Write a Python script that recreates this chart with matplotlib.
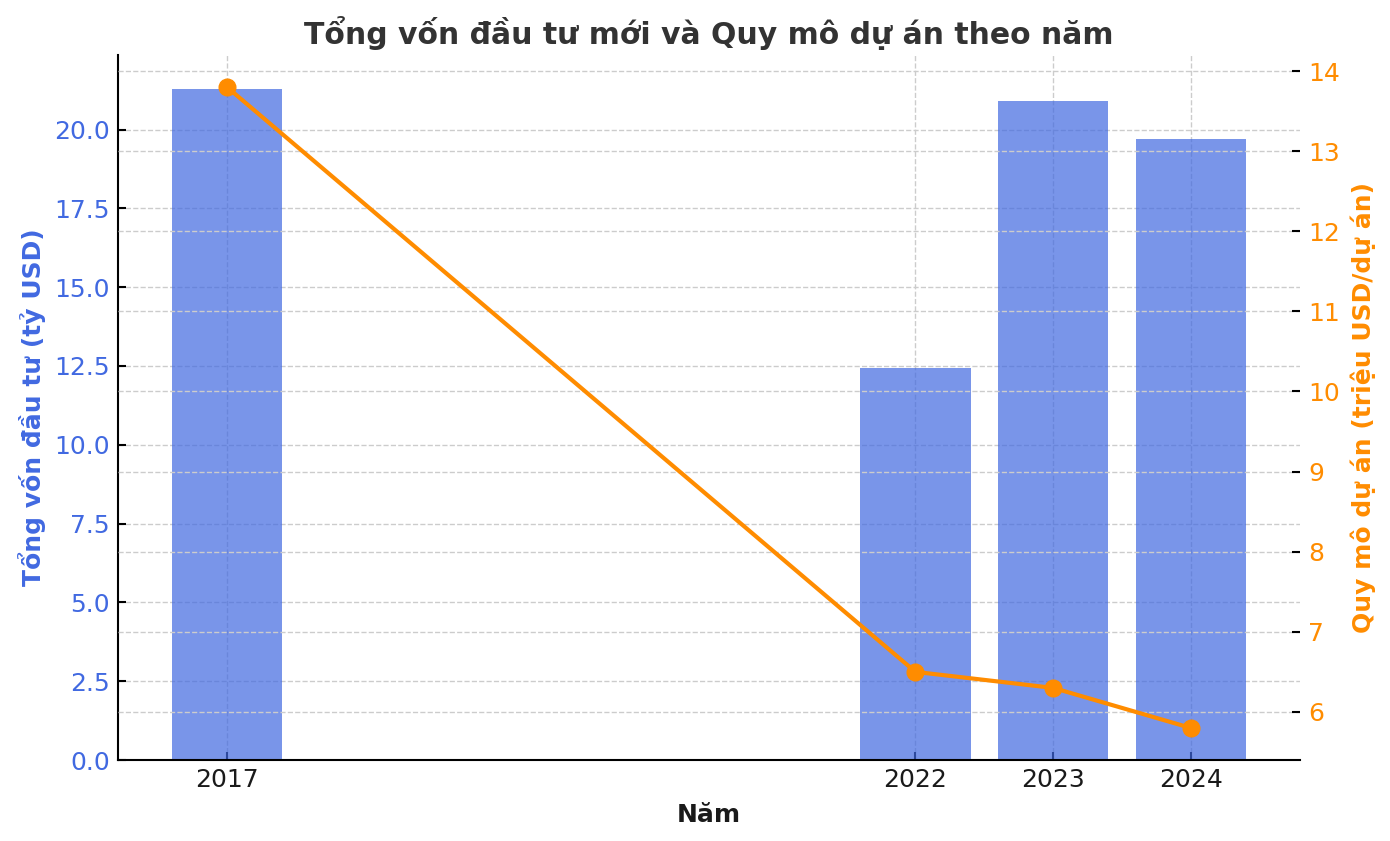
import matplotlib
matplotlib.use('Agg')
import matplotlib.pyplot as plt

# Données
nam = [2017, 2022, 2023, 2024]
tong_von = [21.3, 12.45, 20.9, 19.7]      # tỷ USD
quy_mo = [13.8, 6.5, 6.3, 5.8]            # triệu USD/dự án

mau_cot = 'royalblue'
mau_duong = 'darkorange'

fig = plt.figure(figsize=(13.9, 8.41), dpi=100)
ax1 = fig.add_axes([0.085, 0.0963, 0.85, 0.8383])

ax1.bar(nam, tong_von, width=0.8, color=mau_cot, alpha=0.7, zorder=2)
ax1.set_xticks(nam)
ax1.set_xticklabels([str(n) for n in nam])
ax1.set_xlabel('Năm', fontsize=18, fontweight='bold', color='#1a1a1a', labelpad=8)
ax1.set_ylabel('Tổng vốn đầu tư (tỷ USD)', fontsize=18, fontweight='bold', color=mau_cot, labelpad=6)
ax1.tick_params(axis='y', labelcolor=mau_cot, color='black', labelsize=18, direction='in', length=6, width=1.5, pad=6)
ax1.tick_params(axis='x', labelsize=18, direction='in', length=6, width=1.5, labelcolor='#1a1a1a', pad=6)
ax1.grid(True, linestyle='--', color='#cccccc', linewidth=1, zorder=0)
ax1.set_axisbelow(True)
for s in ['top', 'right']:
    ax1.spines[s].set_visible(False)
for s in ['left', 'bottom']:
    ax1.spines[s].set_linewidth(1.5)

ax2 = ax1.twinx()
ax2.plot(nam, quy_mo, color=mau_duong, linewidth=3, marker='o', markersize=12)
ax2.set_ylabel('Quy mô dự án (triệu USD/dự án)', fontsize=18, fontweight='bold', color=mau_duong, labelpad=8)
ax2.tick_params(axis='y', labelcolor=mau_duong, color='black', labelsize=18, direction='in', length=6, width=1.5, pad=6)
ax2.grid(True, axis='y', linestyle='--', color='#cccccc', linewidth=1)
for s in ['top', 'right', 'left', 'bottom']:
    ax2.spines[s].set_visible(False)

ax1.set_title('Tổng vốn đầu tư mới và Quy mô dự án theo năm', fontsize=21.5, fontweight='bold', color='#333333', pad=8)

plt.savefig('out.png', dpi=100)
